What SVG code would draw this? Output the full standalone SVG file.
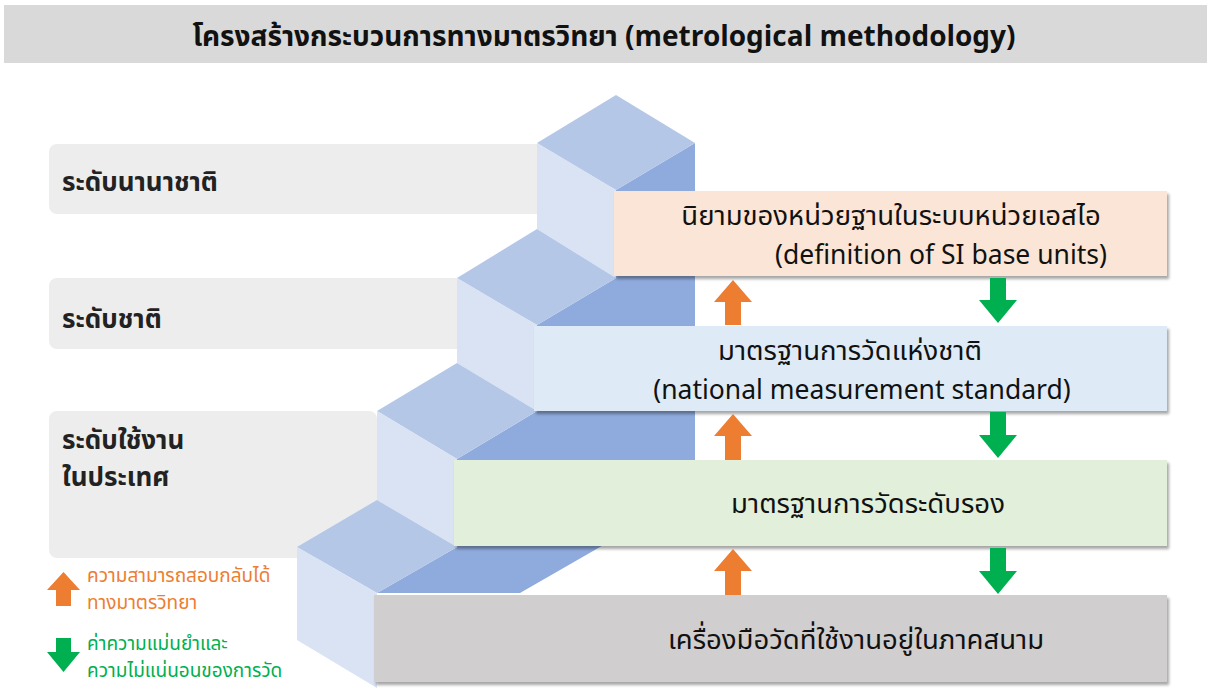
<svg xmlns="http://www.w3.org/2000/svg" width="1207" height="688" viewBox="0 0 1207 688">
<style>
text{font-family:"Noto Sans Thai","Lato","Noto Sans",sans-serif;}
.title{font-size:28px;font-weight:bold;fill:#111;}
.lvl{font-size:26px;font-weight:bold;fill:#222;}
.bt{font-size:27.5px;fill:#111;}
.bl{font-size:26.5px;fill:#111;}
.band{fill:#ededed;}
.top{fill:#b4c7e7;}
.left{fill:#dae3f3;}
.right{fill:#8faadc;}
.up{fill:#ed7d31;}
.down{fill:#00b050;}
.lgo{font-size:19px;fill:#ed7d31;}
.lgg{font-size:19px;fill:#00b050;}
</style>
<defs>
<filter id="sh" x="-5%" y="-10%" width="110%" height="130%">
<feDropShadow dx="2" dy="3" stdDeviation="1.5" flood-color="#000" flood-opacity="0.35"/>
</filter>
</defs>
<rect width="1207" height="688" fill="#fff"/>
<g id="header">
<rect x="4" y="5" width="1203" height="58" fill="#d9d9d9"/>
<text class="title" x="604" y="46" text-anchor="middle">โครงสร้างกระบวนการทางมาตรวิทยา (metrological methodology)</text>
</g>
<g id="bands">
<rect class="band" x="49" y="144" width="560" height="70" rx="8"/>
<rect class="band" x="49" y="278" width="480" height="71" rx="8"/>
<rect class="band" x="49" y="411" width="328" height="147" rx="8"/>
</g>
<g id="stairs">
<polygon class="right" points="616,190 695,143 695,500 600,547 520,593 377,593 457,547 457,459 537,411 537,325 616,278"/>
<polygon class="top" points="616,95 695,143 616,190 537,143"/>
<polygon class="left" points="537,143 616,190 616,278 537,229"/>
<polygon class="top" points="537,229 616,278 537,325 457,278"/>
<polygon class="left" points="457,278 537,325 537,411 457,363"/>
<polygon class="top" points="457,363 537,411 457,459 377,411"/>
<polygon class="left" points="377,411 457,459 457,547 377,500"/>
<polygon class="top" points="377,500 457,547 377,593 297,547"/>
<polygon class="left" points="297,547 377,593 377,688 297,640"/>
</g>
<g id="level-labels">
<text class="lvl" x="62" y="191">ระดับนานาชาติ</text>
<text class="lvl" x="62" y="328">ระดับชาติ</text>
<text class="lvl" x="62" y="449">ระดับใช้งาน</text>
<text class="lvl" x="62" y="486">ในประเทศ</text>
</g>
<g id="box-si">
<rect x="614" y="191" width="553" height="85" fill="#fbe5d6" filter="url(#sh)"/>
<text class="bt" x="891" y="225" text-anchor="middle">นิยามของหน่วยฐานในระบบหน่วยเอสไอ</text>
<text class="bl" x="1107" y="264" text-anchor="end">(definition of SI base units)</text>
</g>
<g id="box-national">
<rect x="534" y="326" width="633" height="85" fill="#deebf7" filter="url(#sh)"/>
<text class="bt" x="850" y="360" text-anchor="middle">มาตรฐานการวัดแห่งชาติ</text>
<text class="bl" x="862" y="399" text-anchor="middle">(national measurement standard)</text>
</g>
<g id="box-secondary">
<rect x="454" y="460" width="713" height="86" fill="#e2efda" filter="url(#sh)"/>
<text class="bt" x="868" y="513" text-anchor="middle">มาตรฐานการวัดระดับรอง</text>
</g>
<g id="box-field">
<rect x="374" y="595" width="793" height="87" fill="#d0cece" filter="url(#sh)"/>
<text class="bt" x="856" y="649" text-anchor="middle">เครื่องมือวัดที่ใช้งานอยู่ในภาคสนาม</text>
</g>
<g id="connectors">
<path class="up" d="M733,280 L752,302 L741,302 L741,325 L725,325 L725,302 L714,302 Z"/>
<path class="down" d="M990,278 L1006,278 L1006,300 L1017,300 L998,323 L979,300 L990,300 Z"/>
<path class="up" d="M733,414 L752,436 L741,436 L741,460 L725,460 L725,436 L714,436 Z"/>
<path class="down" d="M990,412 L1006,412 L1006,435 L1017,435 L998,458 L979,435 L990,435 Z"/>
<path class="up" d="M733,549 L752,571 L741,571 L741,595 L725,595 L725,571 L714,571 Z"/>
<path class="down" d="M990,548 L1006,548 L1006,571 L1017,571 L998,594 L979,571 L990,571 Z"/>
</g>
<g id="legend">
<path class="up" d="M63.5,572 L80,590 L71,590 L71,606 L56,606 L56,590 L47,590 Z"/>
<text class="lgo" x="87" y="582">ความสามารถสอบกลับได้</text>
<text class="lgo" x="87" y="609">ทางมาตรวิทยา</text>
<path class="down" d="M56,638 L71,638 L71,652 L80,652 L63.5,672 L47,652 L56,652 Z"/>
<text class="lgg" x="87" y="650">ค่าความแม่นยำและ</text>
<text class="lgg" x="87" y="677">ความไม่แน่นอนของการวัด</text>
</g>
</svg>
